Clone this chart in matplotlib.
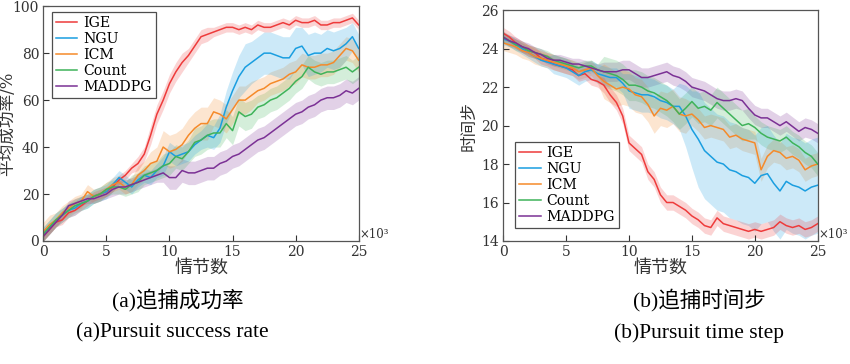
import matplotlib
matplotlib.use("Agg")
import matplotlib.pyplot as plt
import numpy as np

plt.rcParams['font.family'] = ['DejaVu Serif', 'Noto Sans CJK SC']
plt.rcParams['axes.unicode_minus'] = False
CAPTION_FONT = ['Liberation Serif', 'Noto Sans CJK SC']

# ---------------- data ----------------
episodes = np.arange(0, 25.01, 0.5)   # x10^3
methods = ['IGE', 'NGU', 'ICM', 'Count', 'MADDPG']
colors = ['#ee3b3b', '#1a9ee0', '#f58a2a', '#3fb35a', '#7b3195']

# (a) success rate (%)
ige_sr = [2, 5, 8, 9, 12, 13, 15, 17, 19, 20, 21, 23, 26, 28, 31, 33, 37, 45, 54, 60,
          67, 72, 76, 79, 83, 87, 88, 89, 90, 91, 91, 90, 91, 90, 92, 91, 91, 92, 93, 92,
          94, 93, 93, 94, 92, 92, 93, 93, 94, 95, 92]
ngu_sr = [3, 6, 9, 11, 13, 14, 16, 17, 19, 20, 21, 24, 27, 25, 23, 26, 28, 27, 30, 32,
          38, 36, 37, 38, 41, 43, 45, 44, 48, 57, 64, 70, 74, 76, 78, 80, 80, 79, 78, 78,
          82, 83, 79, 80, 80, 82, 81, 82, 84, 87, 82]
icm_sr = [4, 7, 9, 12, 14, 16, 17, 21, 19, 20, 22, 24, 25, 23, 24, 28, 30, 33, 34, 40,
          38, 39, 41, 45, 48, 50, 50, 55, 54, 52, 56, 60, 60, 62, 64, 65, 67, 68, 69, 71,
          72, 75, 74, 74, 75, 75, 76, 79, 82, 81, 77]
count_sr = [3, 6, 9, 11, 13, 15, 16, 17, 19, 20, 22, 23, 23, 22, 24, 25, 28, 29, 30, 32,
            33, 36, 35, 38, 42, 43, 45, 46, 46, 50, 47, 55, 53, 54, 57, 58, 60, 61, 63, 65,
            68, 70, 74, 72, 71, 72, 72, 73, 74, 72, 74]
maddpg_sr = [2, 5, 8, 11, 15, 16, 17, 18, 18, 19, 20, 22, 23, 23, 24, 25, 26, 27, 28, 29,
             27, 27, 30, 29, 29, 30, 31, 31, 33, 34, 36, 37, 39, 41, 43, 44, 46, 48, 50, 52,
             54, 55, 57, 58, 60, 61, 61, 62, 64, 63, 65]

ige_sr_w = [2] * 15 + [3, 3, 4, 4, 4, 4, 4, 4, 3, 3, 3, 3] + [2] * 24
ngu_sr_w = [3] * 19 + [4] * 7 + [5, 5, 6, 7, 8, 9, 10] + [9] * 8 + [8, 9, 9, 8, 8, 8, 8, 7, 6, 6]
icm_sr_w = [4, 4] + [3] * 13 + [4, 4, 5, 6] + [7] * 8 + [6] * 7 + [5] * 17
count_sr_w = [3] * 14 + [4] * 5 + [5] * 5 + [6] * 10 + [5] * 17
maddpg_sr_w = [2] * 11 + [3] * 8 + [4] + [5] * 31

# (b) time step
ige_ts = [24.8, 24.6, 24.3, 24.1, 23.9, 23.8, 23.5, 23.4, 23.2, 23.1, 23.0, 22.9, 22.6, 22.7,
          22.4, 22.3, 22.1, 21.6, 21.2, 20.5, 19.1, 18.8, 18.5, 17.6, 17.2, 16.4, 16.0, 16.0,
          15.8, 15.6, 15.3, 15.1, 14.8, 14.7, 15.2, 14.9, 14.8, 14.7, 14.6, 14.5, 14.6, 14.5,
          14.6, 14.7, 15.0, 14.8, 14.7, 14.8, 14.6, 14.7, 14.9]
ngu_ts = [24.5, 24.4, 24.2, 24.0, 23.8, 23.6, 23.4, 23.3, 23.2, 23.1, 23.0, 22.8, 22.6, 22.8,
          22.9, 22.7, 22.6, 22.5, 22.5, 22.2, 21.8, 21.7, 21.6, 21.6, 21.5, 21.3, 21.2, 21.0,
          21.0, 20.5, 19.8, 19.3, 18.7, 18.4, 18.1, 18.0, 17.7, 17.6, 17.4, 17.3, 17.0, 17.4,
          17.5, 17.0, 16.6, 17.1, 16.9, 16.8, 16.6, 16.8, 16.9]
icm_ts = [24.3, 24.2, 24.1, 23.9, 23.8, 23.6, 23.5, 23.4, 23.3, 23.2, 23.1, 23.0, 22.8, 22.9,
          23.0, 22.6, 22.3, 22.1, 21.9, 22.0, 21.9, 21.6, 21.5, 21.1, 20.5, 20.9, 20.8, 21.0,
          20.6, 20.5, 20.6, 20.3, 19.9, 20.0, 19.9, 19.8, 19.4, 19.5, 19.3, 19.2, 19.1, 17.7,
          18.4, 18.7, 18.6, 18.3, 18.4, 18.2, 17.7, 17.9, 18.0]
count_ts = [24.6, 24.4, 24.2, 24.1, 23.9, 23.8, 23.7, 23.6, 23.4, 23.3, 23.2, 23.1, 23.0, 23.1,
            23.1, 22.9, 22.8, 22.7, 22.6, 22.4, 22.1, 22.1, 22.0, 21.8, 21.7, 21.5, 21.3, 21.0,
            20.6, 20.9, 21.25, 20.9, 21.0, 20.8, 21.2, 20.9, 20.6, 20.3, 20.0, 20.1, 19.9, 19.6,
            19.4, 19.3, 19.2, 19.4, 19.1, 18.9, 18.6, 18.4, 18.0]
maddpg_ts = [24.6, 24.4, 24.3, 24.1, 24.0, 23.8, 23.7, 23.5, 23.4, 23.4, 23.3, 23.2, 23.2, 23.1,
             23.0, 22.9, 22.8, 22.8, 22.8, 22.9, 22.9, 22.7, 22.5, 22.5, 22.6, 22.7, 22.8, 22.6,
             22.5, 22.3, 22.0, 21.9, 21.8, 21.6, 21.4, 21.3, 21.3, 21.4, 21.3, 20.9, 20.55, 20.4,
             20.4, 20.2, 20.0, 20.2, 19.95, 19.7, 19.9, 19.8, 19.6]

ige_ts_w = [0.3] * 16 + [0.4] * 35
ngu_ts_w = [0.3] * 8 + [0.5] * 6 + [0.5] * 6 + [0.9] * 8 + [1.2, 1.6, 2.0] + [2.5] * 20
icm_ts_w = [0.4] * 16 + [0.9] * 14 + [0.6] * 21
count_ts_w = [0.3] * 16 + [0.8] * 24 + [0.6] * 11
maddpg_ts_w = [0.3] * 16 + [0.5] * 35

sr_means = [ige_sr, ngu_sr, icm_sr, count_sr, maddpg_sr]
sr_widths = [ige_sr_w, ngu_sr_w, icm_sr_w, count_sr_w, maddpg_sr_w]
ts_means = [ige_ts, ngu_ts, icm_ts, count_ts, maddpg_ts]
ts_widths = [ige_ts_w, ngu_ts_w, icm_ts_w, count_ts_w, maddpg_ts_w]

# ---------------- figure ----------------
fig = plt.figure(figsize=(8.5, 3.64), dpi=100)
ax1 = fig.add_axes([0.051, 0.338, 0.371, 0.645])
ax2 = fig.add_axes([0.592, 0.338, 0.370, 0.634])


def draw(ax, means, widths):
    # 逆序畫，讓 IGE 在最上層
    for name, c, m, w in reversed(list(zip(methods, colors, means, widths))):
        m = np.array(m)
        w = np.array(w)
        ax.fill_between(episodes, m - w, m + w, color=c, alpha=0.22, lw=0)
    for name, c, m in zip(methods, colors, means):
        ax.plot(episodes, m, color=c, lw=1.1, label=name)
    ax.set_xlim(0, 25)
    ax.set_xticks([0, 5, 10, 15, 20, 25])
    ax.tick_params(direction='in', length=4, width=0.8, labelsize=10,
                   colors='#333333', pad=3)
    for s in ax.spines.values():
        s.set_color('#555555')
        s.set_linewidth(0.9)
    ax.text(1.003, 0.0, '×10³', transform=ax.transAxes, fontsize=8.5,
            ha='left', va='bottom', color='#333333')
    ax.set_xlabel('情节数', fontsize=13, color='#333333', labelpad=0)
    leg = ax.legend(fontsize=10.2, frameon=True, fancybox=False, handlelength=1.5,
                    handletextpad=0.4, labelspacing=0.13, borderpad=0.3, borderaxespad=0)
    leg.get_frame().set_edgecolor('#222222')
    leg.get_frame().set_linewidth(0.9)
    return leg


leg1 = draw(ax1, sr_means, sr_widths)
ax1.set_ylim(0, 100)
ax1.set_yticks([0, 20, 40, 60, 80, 100])
ax1.set_ylabel('平均成功率/%', fontsize=12, color='#333333')
ax1.yaxis.set_label_coords(-0.087, 0.5)
leg1.set_loc('upper left')
leg1.set_bbox_to_anchor((0.027, 0.975), transform=ax1.transAxes)

leg2 = draw(ax2, ts_means, ts_widths)
ax2.set_ylim(14, 26)
ax2.set_yticks([14, 16, 18, 20, 22, 24, 26])
ax2.set_ylabel('时间步', fontsize=12, color='#333333')
ax2.yaxis.set_label_coords(-0.083, 0.5)
leg2.set_loc('lower left')
leg2.set_bbox_to_anchor((0.038, 0.056), transform=ax2.transAxes)

# captions
fig.text(178 / 850, 1 - 300 / 364, '(a)追捕成功率', ha='center', va='center',
         fontsize=15.5, family=CAPTION_FONT)
fig.text(172 / 850, 1 - 333 / 364, '(a)Pursuit success rate', ha='center', va='center',
         fontsize=15.5, family=CAPTION_FONT)
fig.text(699 / 850, 1 - 300 / 364, '(b)追捕时间步', ha='center', va='center',
         fontsize=15.5, family=CAPTION_FONT)
fig.text(699 / 850, 1 - 333 / 364, '(b)Pursuit time step', ha='center', va='center',
         fontsize=15.5, family=CAPTION_FONT)

fig.savefig('out.png', dpi=100)
